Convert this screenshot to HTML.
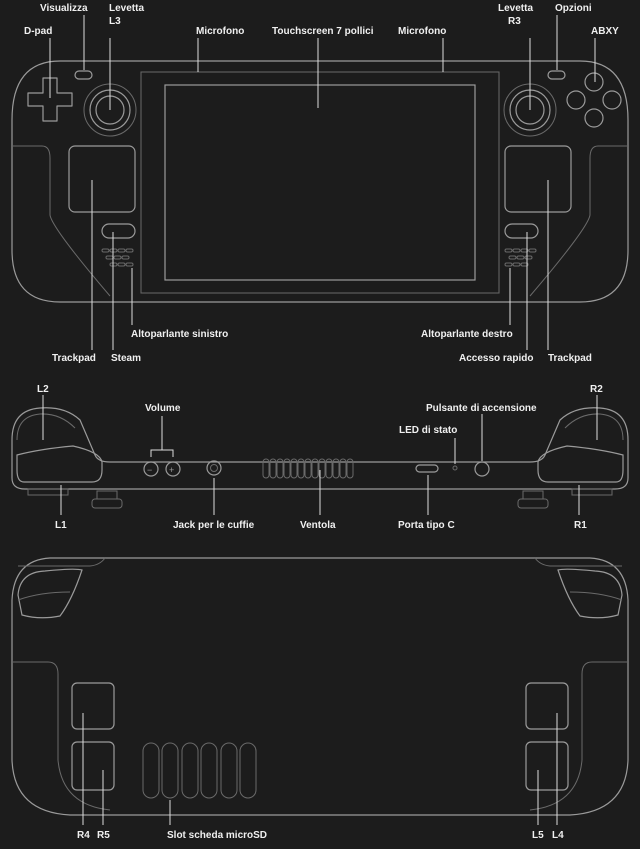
<!DOCTYPE html>
<html><head><meta charset="utf-8"><style>
html,body{margin:0;padding:0;background:#1c1c1c;}
svg{display:block}
text{font-family:"Liberation Sans",sans-serif;font-size:10px;fill:#f0f0f0;font-weight:bold}
.l{stroke:#9a9a9a;stroke-width:1.2;fill:none}
.d{stroke:#6a6a6a;stroke-width:1;fill:none}
.c{stroke:#dcdcdc;stroke-width:1;fill:none}
</style></head><body>
<svg width="640" height="849" viewBox="0 0 640 849">
<rect width="640" height="849" fill="#1c1c1c"/>
<path class="l" d="M60,61 H580 Q628,61 628,120 V250 Q628,302 580,302 H60 Q12,302 12,250 V120 Q12,61 60,61 Z"/>
<path class="d" d="M13,146 H42 Q50,146 50,158 V215 Q52,228 110,296"/>
<path class="d" d="M627,146 H598 Q590,146 590,158 V215 Q588,228 530,296"/>
<rect class="d" x="141" y="72" width="358" height="221"/>
<rect class="l" x="165" y="85" width="310" height="195"/>
<path class="l" d="M43,78 h14 v15 h15 v13 h-15 v15 h-14 v-15 h-15 v-13 h15 z" stroke-linejoin="round"/>
<rect class="l" x="75" y="71" width="17" height="8" rx="4"/>
<circle class="d" cx="110" cy="110" r="26"/>
<circle class="l" cx="110" cy="110" r="20"/>
<circle class="l" cx="110" cy="110" r="14"/>
<rect class="l" x="69" y="146" width="66" height="66" rx="6"/>
<rect class="l" x="102" y="224" width="33" height="14" rx="7"/>
<g class="d"><rect x="102" y="249" width="7" height="3" rx="1.5"/><rect x="110" y="249" width="7" height="3" rx="1.5"/><rect x="118" y="249" width="7" height="3" rx="1.5"/><rect x="126" y="249" width="7" height="3" rx="1.5"/>
<rect x="106" y="256" width="7" height="3" rx="1.5"/><rect x="114" y="256" width="7" height="3" rx="1.5"/><rect x="122" y="256" width="7" height="3" rx="1.5"/>
<rect x="110" y="263" width="7" height="3" rx="1.5"/><rect x="118" y="263" width="7" height="3" rx="1.5"/><rect x="126" y="263" width="7" height="3" rx="1.5"/></g>
<rect class="l" x="548" y="71" width="17" height="8" rx="4"/>
<circle class="d" cx="530" cy="110" r="26"/>
<circle class="l" cx="530" cy="110" r="20"/>
<circle class="l" cx="530" cy="110" r="14"/>
<circle class="l" cx="594" cy="82" r="9"/><circle class="l" cx="576" cy="100" r="9"/><circle class="l" cx="612" cy="100" r="9"/><circle class="l" cx="594" cy="118" r="9"/>
<rect class="l" x="505" y="146" width="66" height="66" rx="6"/>
<rect class="l" x="505" y="224" width="33" height="14" rx="7"/>
<g class="d"><rect x="505" y="249" width="7" height="3" rx="1.5"/><rect x="513" y="249" width="7" height="3" rx="1.5"/><rect x="521" y="249" width="7" height="3" rx="1.5"/><rect x="529" y="249" width="7" height="3" rx="1.5"/>
<rect x="509" y="256" width="7" height="3" rx="1.5"/><rect x="517" y="256" width="7" height="3" rx="1.5"/><rect x="525" y="256" width="7" height="3" rx="1.5"/>
<rect x="505" y="263" width="7" height="3" rx="1.5"/><rect x="513" y="263" width="7" height="3" rx="1.5"/><rect x="521" y="263" width="7" height="3" rx="1.5"/></g>
<g class="c">
<line x1="50" y1="38" x2="50" y2="98"/><line x1="84" y1="15" x2="84" y2="70"/><line x1="110" y1="38" x2="110" y2="110"/>
<line x1="198" y1="38" x2="198" y2="72"/><line x1="318" y1="38" x2="318" y2="108"/><line x1="443" y1="38" x2="443" y2="72"/>
<line x1="530" y1="38" x2="530" y2="110"/><line x1="557" y1="15" x2="557" y2="70"/><line x1="595" y1="38" x2="595" y2="82"/>
<line x1="92" y1="180" x2="92" y2="350"/><line x1="113" y1="232" x2="113" y2="350"/><line x1="132" y1="268" x2="132" y2="325"/>
<line x1="510" y1="268" x2="510" y2="325"/><line x1="527" y1="232" x2="527" y2="350"/><line x1="548" y1="180" x2="548" y2="350"/>
</g>
<text x="24" y="34">D-pad</text><text x="40" y="11">Visualizza</text><text x="109" y="11">Levetta</text><text x="109" y="24">L3</text>
<text x="196" y="34">Microfono</text><text x="272" y="34">Touchscreen 7 pollici</text><text x="398" y="34">Microfono</text>
<text x="498" y="11">Levetta</text><text x="508" y="24">R3</text><text x="555" y="11">Opzioni</text><text x="591" y="34">ABXY</text>
<text x="131" y="337">Altoparlante sinistro</text><text x="421" y="337">Altoparlante destro</text>
<text x="52" y="361">Trackpad</text><text x="111" y="361">Steam</text><text x="459" y="361">Accesso rapido</text><text x="548" y="361">Trackpad</text>
<path class="l" d="M12,478 V440 Q12,410 40,408 Q65,406 80,420 L95,455 Q98,462 110,462 H530 Q542,462 545,455 L560,420 Q575,406 600,408 Q628,410 628,440 V478 Q628,489 615,489 H25 Q12,489 12,478 Z"/>
<path class="d" d="M17,440 Q17,416 40,414 Q60,413 75,428"/>
<path class="l" d="M17,470 V455 Q40,449 73,446 Q100,452 102,462 V470 Q102,482 92,482 H24 Q17,482 17,470 Z"/>
<path class="l" d="M623,470 V455 Q600,449 567,446 Q540,452 538,462 V470 Q538,482 548,482 H616 Q623,482 623,470 Z"/>
<path class="d" d="M623,440 Q623,416 600,414 Q580,413 565,428"/>
<circle class="l" cx="151" cy="469" r="7"/><circle class="l" cx="173" cy="469" r="7"/>
<text x="147" y="473" style="font-size:9px;fill:#999;font-weight:normal">−</text><text x="169" y="473" style="font-size:9px;fill:#999;font-weight:normal">+</text>
<circle class="l" cx="214" cy="468" r="7"/><circle class="d" cx="214" cy="468" r="3.5"/>
<g class="d"><rect x="263" y="459" width="6" height="19" rx="3"/><rect x="270" y="459" width="6" height="19" rx="3"/><rect x="277" y="459" width="6" height="19" rx="3"/><rect x="284" y="459" width="6" height="19" rx="3"/><rect x="291" y="459" width="6" height="19" rx="3"/><rect x="298" y="459" width="6" height="19" rx="3"/><rect x="305" y="459" width="6" height="19" rx="3"/><rect x="312" y="459" width="6" height="19" rx="3"/><rect x="319" y="459" width="6" height="19" rx="3"/><rect x="326" y="459" width="6" height="19" rx="3"/><rect x="333" y="459" width="6" height="19" rx="3"/><rect x="340" y="459" width="6" height="19" rx="3"/><rect x="347" y="459" width="6" height="19" rx="3"/></g>
<rect class="l" x="416" y="465" width="22" height="7" rx="3.5"/>
<circle class="d" cx="455" cy="468" r="2"/>
<circle class="l" cx="482" cy="469" r="7"/>
<g class="d"><rect x="28" y="489" width="40" height="6"/><rect x="97" y="491" width="20" height="8"/><rect x="92" y="499" width="30" height="9" rx="3"/>
<rect x="572" y="489" width="40" height="6"/><rect x="523" y="491" width="20" height="8"/><rect x="518" y="499" width="30" height="9" rx="3"/></g>
<g class="c">
<line x1="43" y1="395" x2="43" y2="440"/><line x1="61" y1="485" x2="61" y2="515"/>
<path d="M151,457 V450 H173 V457 M162,450 V416"/>
<line x1="214" y1="478" x2="214" y2="515"/><line x1="320" y1="470" x2="320" y2="515"/><line x1="428" y1="475" x2="428" y2="515"/>
<line x1="455" y1="438" x2="455" y2="464"/><line x1="482" y1="414" x2="482" y2="461"/>
<line x1="579" y1="485" x2="579" y2="515"/><line x1="597" y1="395" x2="597" y2="440"/>
</g>
<text x="37" y="392">L2</text><text x="590" y="392">R2</text><text x="145" y="411">Volume</text>
<text x="426" y="411">Pulsante di accensione</text><text x="399" y="433">LED di stato</text>
<text x="55" y="528">L1</text><text x="173" y="528">Jack per le cuffie</text><text x="300" y="528">Ventola</text><text x="398" y="528">Porta tipo C</text><text x="574" y="528">R1</text>
<path class="l" d="M50,558 H590 Q626,560 628,600 V760 Q626,812 570,815 H70 Q14,812 12,760 V600 Q14,560 50,558 Z"/>
<path class="d" d="M105,558 Q100,565 90,566 H18 M535,558 Q540,565 550,566 H622"/>
<path class="l" d="M18,595 Q20,572 45,571 Q75,568 82,570 Q72,600 60,616 Q40,620 22,615 Z"/>
<path class="d" d="M18,600 Q40,592 70,592"/>
<path class="l" d="M622,595 Q620,572 595,571 Q565,568 558,570 Q568,600 580,616 Q600,620 618,615 Z"/>
<path class="d" d="M622,600 Q600,592 570,592"/>
<path class="d" d="M13,662 H48 Q58,662 58,674 V760 Q62,805 110,810"/>
<path class="d" d="M627,662 H592 Q582,662 582,674 V760 Q578,805 530,810"/>
<rect class="l" x="72" y="683" width="42" height="46" rx="5"/><rect class="l" x="72" y="742" width="42" height="48" rx="5"/>
<rect class="l" x="526" y="683" width="42" height="46" rx="5"/><rect class="l" x="526" y="742" width="42" height="48" rx="5"/>
<g class="d"><rect x="143" y="743" width="16" height="55" rx="8"/><rect x="162" y="743" width="16" height="55" rx="8"/><rect x="182" y="743" width="16" height="55" rx="8"/><rect x="201" y="743" width="16" height="55" rx="8"/><rect x="221" y="743" width="16" height="55" rx="8"/><rect x="240" y="743" width="16" height="55" rx="8"/></g>
<g class="c">
<line x1="83" y1="713" x2="83" y2="825"/><line x1="103" y1="770" x2="103" y2="825"/><line x1="170" y1="800" x2="170" y2="825"/>
<line x1="538" y1="770" x2="538" y2="825"/><line x1="557" y1="713" x2="557" y2="825"/>
</g>
<text x="77" y="838">R4</text><text x="97" y="838">R5</text><text x="167" y="838">Slot scheda microSD</text><text x="532" y="838">L5</text><text x="552" y="838">L4</text>
</svg>
</body></html>
